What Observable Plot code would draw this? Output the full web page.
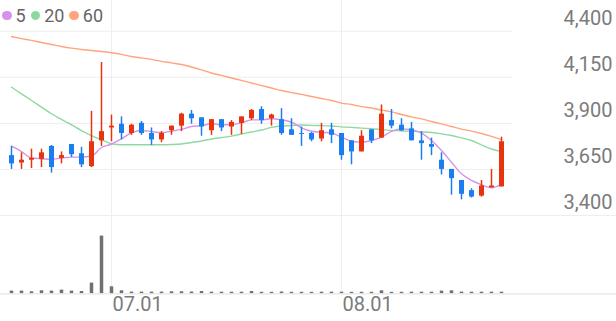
<!DOCTYPE html>
<html>
<head>
<meta charset="utf-8">
<script src="https://cdn.jsdelivr.net/npm/d3@7"></script>
<script src="https://cdn.jsdelivr.net/npm/@observablehq/plot@0.6"></script>
<style>
  body { margin: 0; background: #fff; }
  #wrap { position: relative; width: 616px; height: 321px; overflow: hidden; font-family: Roboto, sans-serif; }
  #price, #volume { position: absolute; left: 0; }
  #price { top: 0; }
  #volume { top: 205px; }
  #legend { position: absolute; left: 2px; top: 5px; display: flex; align-items: center; height: 21px; font-size: 18px; color: #666; z-index: 2; }
  #legend .dot { width: 9.5px; height: 9.5px; border-radius: 50%; display: inline-block; margin-right: 4px; }
  #legend .lab { margin-right: 5px; line-height: 21px; }
</style>
</head>
<body>
<div id="wrap">
  <div id="price"></div>
  <div id="volume"></div>
  <div id="legend"></div>
</div>
<script>
const dates = ["06.17","06.18","06.19","06.20","06.21","06.24","06.25","06.26","06.27","06.28",
  "07.01","07.02","07.03","07.04","07.05","07.08","07.09","07.10","07.11","07.12",
  "07.15","07.16","07.17","07.18","07.19","07.22","07.23","07.24","07.25","07.26",
  "07.29","07.30","07.31","08.01","08.02","08.05","08.06","08.07","08.08","08.09",
  "08.12","08.13","08.14","08.16","08.19","08.20","08.21","08.22","08.23","08.26"];
const opens  = [3725,3685,3700,3705,3775,3710,3785,3735,3665,3805,3875,3895,3845,3900,3845,3810,3860,3885,3950,3930,
  3860,3920,3880,3900,3925,3975,3925,3920,3865,3845,3845,3815,3865,3845,3805,3745,3865,3820,3915,3890,
  3870,3805,3785,3700,3650,3590,3535,3505,3550,3555];
const highs  = [3775,3740,3760,3760,3780,3745,3785,3770,3965,4230,3945,3935,3895,3910,3875,3855,3885,3955,3970,3930,
  3920,3920,3915,3935,3975,3990,3950,3980,3925,3880,3850,3900,3900,3845,3805,3860,3865,4000,3975,3925,
  3905,3855,3820,3740,3650,3590,3545,3590,3650,3825];
const lows   = [3650,3650,3655,3660,3630,3680,3715,3660,3660,3775,3800,3810,3835,3835,3780,3795,3835,3855,3895,3830,
  3835,3855,3835,3840,3915,3895,3885,3835,3835,3775,3800,3800,3790,3700,3675,3745,3790,3820,3870,3855,
  3805,3700,3725,3620,3510,3485,3495,3500,3550,3555];
const closes = [3680,3700,3710,3740,3660,3725,3730,3675,3800,3855,3885,3845,3890,3845,3810,3845,3885,3950,3925,3880,
  3920,3875,3905,3935,3970,3915,3945,3845,3835,3840,3810,3860,3835,3725,3745,3830,3805,3950,3885,3860,
  3805,3790,3770,3650,3600,3515,3500,3560,3560,3800];
const ma5  = [3776,3747,3712,3708,3704,3712,3717,3717,3723,3769,3788,3816,3848,3861,3856,3850,3857,3867,3883,3888,
  3898,3892,3892,3903,3919,3919,3925,3919,3906,3876,3857,3852,3847,3825,3803,3798,3807,3825,3857,3870,
  3865,3847,3807,3753,3689,3626,3590,3567,3550,3570];
const ma20 = [4096,4060,4024,3988,3952,3921,3892,3861,3834,3811,3789,3784,3784,3784,3784,3784,3785,3788,3796,3804,
  3815,3823,3831,3842,3853,3864,3878,3886,3888,3891,3889,3888,3886,3881,3878,3874,3871,3867,3861,3860,
  3857,3854,3850,3843,3834,3821,3807,3783,3761,3747];
const ma60 = [4371,4360,4350,4339,4328,4317,4308,4301,4295,4290,4283,4274,4263,4255,4247,4236,4228,4219,4206,4190,
  4173,4160,4146,4133,4119,4105,4092,4078,4067,4057,4046,4035,4024,4010,4002,3991,3983,3972,3962,3948,
  3935,3924,3910,3897,3883,3869,3858,3845,3829,3812];
const volumes = [54000,54000,40000,60000,54000,74000,54000,46000,214000,1154000,140000,60000,34000,34000,34000,34000,40000,40000,36000,46000,
  32000,32000,32000,32000,46000,30000,30000,36000,30000,30000,30000,32000,32000,32000,30000,30000,30000,60000,30000,30000,
  32000,32000,32000,54000,60000,34000,32000,32000,32000,32000];
const yTicks = [3400, 3650, 3900, 4150, 4400];
const xTicks = ["07.01", "08.01"];
const maNames = ["5", "20", "60"];
const maColors = ["#d692e8", "#8fd9a0", "#ffa47e"];

const UP = "#e8330f", DOWN = "#1a7ef0", GRID = "#eeeeee", TXT = "#7b7b7b";
const rows = dates.map((d, i) => ({date: d, open: opens[i], high: highs[i], low: lows[i], close: closes[i],
  ma5: ma5[i], ma20: ma20[i], ma60: ma60[i], volume: volumes[i]}));
const ups = rows.filter(r => r.close >= r.open);
const downs = rows.filter(r => r.close < r.open);
const xRange = [5.7, 506.5];
const fmt = d3.format(",");

const price = Plot.plot({
  width: 616, height: 216, marginTop: 0, marginBottom: 1, marginLeft: 0, marginRight: 104,
  x: {type: "point", domain: dates, range: xRange, axis: null},
  y: {domain: [3400, 4400], range: [215, 30.7], axis: null},
  style: {background: "transparent", fontFamily: "Roboto, sans-serif", overflow: "visible"},
  marks: [
    Plot.ruleY(yTicks, {stroke: GRID, strokeWidth: 1}),
    Plot.ruleX(xTicks, {stroke: GRID, strokeWidth: 1}),
    Plot.text(yTicks, {y: d => d, text: d => fmt(d), frameAnchor: "right", textAnchor: "end", dx: 100, dy: -13, fontSize: 20, fill: TXT}),
    Plot.lineY(rows, {x: "date", y: "ma60", stroke: maColors[2], strokeWidth: 1.4, curve: "monotone-x"}),
    Plot.lineY(rows, {x: "date", y: "ma20", stroke: maColors[1], strokeWidth: 1.4, curve: "monotone-x"}),
    Plot.lineY(rows, {x: "date", y: "ma5", stroke: maColors[0], strokeWidth: 1.4, curve: "monotone-x"}),
    Plot.ruleX(ups, {x: "date", y1: "low", y2: "high", stroke: UP, strokeWidth: 1.5}),
    Plot.ruleX(downs, {x: "date", y1: "low", y2: "high", stroke: DOWN, strokeWidth: 1.5}),
    Plot.ruleX(ups, {x: "date", y1: "open", y2: "close", stroke: UP, strokeWidth: 5}),
    Plot.ruleX(downs, {x: "date", y1: "open", y2: "close", stroke: DOWN, strokeWidth: 5})
  ]
});
document.getElementById("price").appendChild(price);

const volMax = 1566000;
const volume = Plot.plot({
  width: 616, height: 116, marginTop: 10, marginBottom: 27.7, marginLeft: 0, marginRight: 0,
  x: {type: "point", domain: dates, range: xRange, axis: null},
  y: {domain: [0, volMax], axis: null},
  style: {background: "transparent", fontFamily: "Roboto, sans-serif", overflow: "visible"},
  marks: [
    Plot.ruleX(xTicks, {stroke: GRID, strokeWidth: 1}),
    Plot.ruleY([volMax], {stroke: GRID, strokeWidth: 1}),
    Plot.ruleX(rows, {x: "date", y1: 0, y2: "volume", stroke: "#707070", strokeWidth: 3.5}),
    Plot.ruleY([0], {stroke: "#e6e6e6", strokeWidth: 1.2}),
    Plot.text(xTicks, {x: d => d, text: d => d, frameAnchor: "bottom", textAnchor: "start", dx: 1, dy: 17, fontSize: 20, fill: TXT})
  ]
});
document.getElementById("volume").appendChild(volume);

const legend = document.getElementById("legend");
maNames.forEach((n, i) => {
  const dot = document.createElement("span");
  dot.className = "dot";
  dot.style.background = maColors[i];
  const lab = document.createElement("span");
  lab.className = "lab";
  lab.textContent = n;
  legend.appendChild(dot);
  legend.appendChild(lab);
});
</script>
</body>
</html>
